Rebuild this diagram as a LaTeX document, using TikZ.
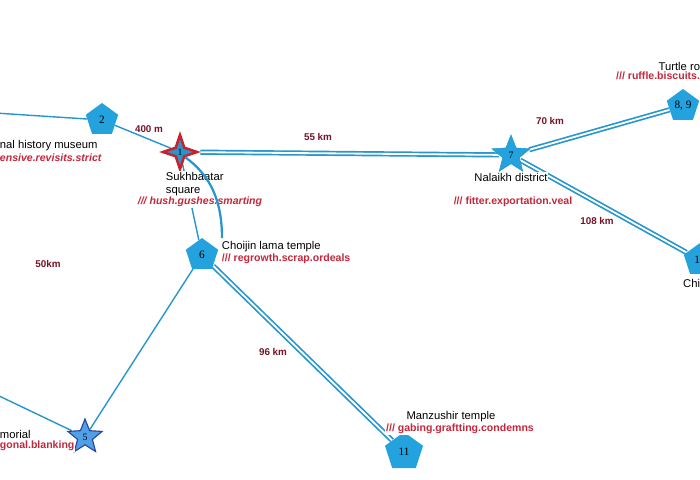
\documentclass[tikz,border=0pt]{standalone}
\usepackage{fontspec}
\setmainfont{Liberation Sans}
\newfontfamily\numfont{Liberation Serif}
\usepackage{tikz}
\usetikzlibrary{shapes.geometric, backgrounds, positioning}
\definecolor{mapblue}{RGB}{35, 162, 222}
\definecolor{roadblue}{RGB}{38, 150, 205}
\definecolor{starblue}{RGB}{80, 160, 232}
\definecolor{staredge}{RGB}{40, 70, 160}
\definecolor{pinred}{RGB}{200, 35, 45}
\definecolor{codered}{RGB}{195, 40, 60}
\definecolor{distred}{RGB}{115, 20, 40}
\tikzset{
  place/.style={regular polygon, regular polygon sides=5, fill=mapblue, inner sep=0pt,
              minimum size=0.85cm, font=\numfont\fontsize{8}{8}\selectfont},
  bluestar/.style={star, star points=5, star point ratio=2.3, fill=mapblue, draw=roadblue,
              inner sep=0pt, minimum size=1cm, font=\numfont\fontsize{7}{7}\selectfont},
  darkstar/.style={star, star points=5, star point ratio=2.3, fill=starblue, draw=staredge,
              thick, inner sep=0pt, minimum size=0.9cm, font=\numfont\fontsize{7}{7}\selectfont},
  redpin/.style={star, star points=4, star point ratio=2.8, fill=roadblue, draw=pinred,
              line width=1.8pt, inner sep=0pt, minimum size=0.85cm, font=\numfont\fontsize{7}{7}\selectfont},
  sitename/.style={font=\fontsize{8}{9.5}\selectfont, inner sep=0.5pt, fill=white, align=left},
  sitecode/.style={font=\bfseries\fontsize{7.5}{9}\selectfont, text=codered, inner sep=0.5pt, fill=white},
  sitecodeit/.style={sitecode, font=\bfseries\itshape\fontsize{7.5}{9}\selectfont},
  dist/.style={font=\bfseries\fontsize{7}{8}\selectfont, text=distred},
  road/.style={draw=roadblue, line width=1pt},
  highway/.style={draw=roadblue, line width=1.2pt, double=white, double distance=1.3pt},
}
\begin{document}
\begin{tikzpicture}[x=0.025cm, y=-0.025cm]
    \clip (0,0) rectangle (700,480);

    \node[place] (n2) at (102,120) {2};
    \node[redpin] (n1) at (180,152) {1};
    \node[place] (n6) at (202,255) {6};
    \node[bluestar] (n7) at (511,155) {7};
    \node[place] (n89) at (683,106) {8, 9};
    \node[place] (n10) at (700,260) {1\phantom{0}};
    \node[darkstar] (n5) at (85,437) {5};
    \node[place, minimum size=1cm] (n11) at (404,452) {11};
    \coordinate (w2) at (-5,113);
    \coordinate (w5) at (-5,394);
    \coordinate (c6) at (222,238);

    \node[sitename, anchor=west] (nm2) at (-1,146) {nal history museum};
    \node[sitecodeit, anchor=west] (cd2) at (-1,158) {ensive.revisits.strict};
    \node[sitename, anchor=north west] (nm1) at (165,171) {Sukhbaatar\\square};
    \node[sitecodeit] (cd1) at (200,202) {/// hush.gushes.smarting};
    \node[sitename, below=0.2cm of n7] (nm7) {Nalaikh district};
    \node[sitecode] (cd7) at (513,202) {/// fitter.exportation.veal};
    \node[sitename, anchor=east] (nm89) at (701,66) {Turtle ro};
    \node[sitecode, anchor=north east] (cd89) at (nm89.south east) {/// ruffle.biscuits.};
    \node[sitename, anchor=east] (nm10) at (701,283) {Chi};
    \node[sitename, anchor=west] (nm6) at (221,247) {Choijin lama temple};
    \node[sitecode, anchor=north west] (cd6) at (nm6.south west) {/// regrowth.scrap.ordeals};
    \node[sitename, anchor=west] (nm5) at (-1,434) {morial};
    \node[sitecode, anchor=west] (cd5) at (-1,446) {gonal.blanking};
    \node[sitename] (nm11) at (451,417) {Manzushir temple};
    \node[sitecode] (cd11) at (460,429) {/// gabing.graftting.condemns};

    \node[dist] (d21) at (149,129) {400 m};
    \node[dist] (d17) at (318,137) {55 km};
    \node[dist] (d789) at (550,121) {70 km};
    \node[dist] (d710) at (597,221) {108 km};
    \node[dist] (d611) at (273,352) {96 km};
    \node[dist] (dwest) at (48,264) {50km};

    \begin{scope}[on background layer]
      \draw[road] (w2) -- (n2);
      \draw[road] (n2) -- (n1);
      \draw[road] (n1) -- (n6);
      \draw[road] (n6) -- (n5);
      \draw[road] (n5) -- (w5);
      \draw[highway] (n1) -- (n7);
      \draw[highway] (n7) -- (n89);
      \draw[highway] (n7) -- (n10);
      \draw[highway] (n6) -- (n11);
    \end{scope}
    \draw[road, line width=1.6pt] (n1.south east) .. controls (210,175) and (222,200) .. (c6);
  \end{tikzpicture}
\end{document}
